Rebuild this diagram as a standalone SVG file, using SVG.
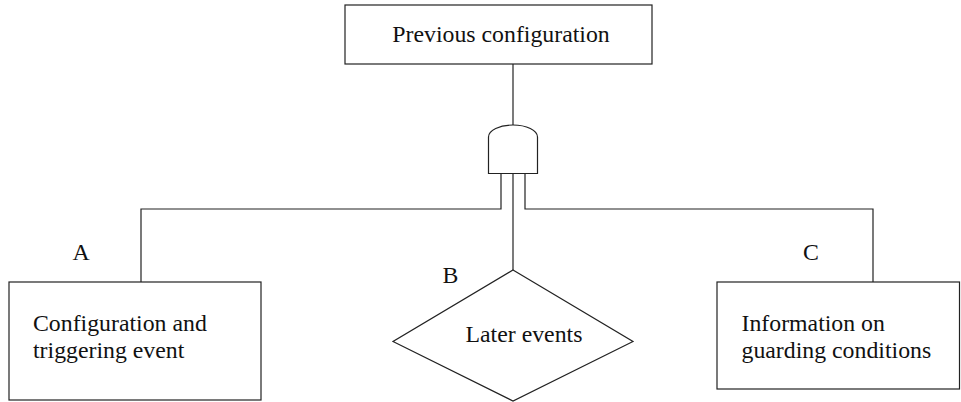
<svg xmlns="http://www.w3.org/2000/svg" width="961" height="402" viewBox="0 0 961 402">
<style>
.shape{fill:#fff;stroke:#222;stroke-width:1.2}
.wire{fill:none;stroke:#222;stroke-width:1.2}
.t{font-size:23.8px;fill:#111}
</style>
<rect width="961" height="402" fill="#fff"/>
<g id="connectors">
<path class="wire" d="M513,64 V125"/>
<path class="wire" d="M501,173 V209 H141 V282"/>
<path class="wire" d="M513,173 V270"/>
<path class="wire" d="M525,173 V209 H873 V282"/>
</g>
<g font-family="'Liberation Serif', 'DejaVu Serif', serif">
<g id="prev">
<rect class="shape" x="345" y="5" width="307" height="59"/>
<text class="t" x="501" y="42" text-anchor="middle">Previous configuration</text>
</g>
<g id="gate">
<path class="shape" d="M488.5,173.5 V137 A24.5,12 0 0 1 537.5,137 V173.5 Z"/>
</g>
<g id="nodeA">
<rect class="shape" x="9" y="282" width="252" height="118"/>
<text class="t" x="33" y="331">Configuration and</text>
<text class="t" x="33" y="358">triggering event</text>
</g>
<g id="nodeB">
<polygon class="shape" points="513,270 633,341.5 513,401 393,341.5"/>
<text class="t" x="524" y="342" text-anchor="middle">Later events</text>
</g>
<g id="nodeC">
<rect class="shape" x="717" y="282" width="242.5" height="107"/>
<text class="t" x="741.5" y="331">Information on</text>
<text class="t" x="741.5" y="358">guarding conditions</text>
</g>
<g id="labels">
<text class="t" x="72.5" y="260">A</text>
<text class="t" x="442.5" y="283">B</text>
<text class="t" x="803" y="260">C</text>
</g>
</g>
</svg>
